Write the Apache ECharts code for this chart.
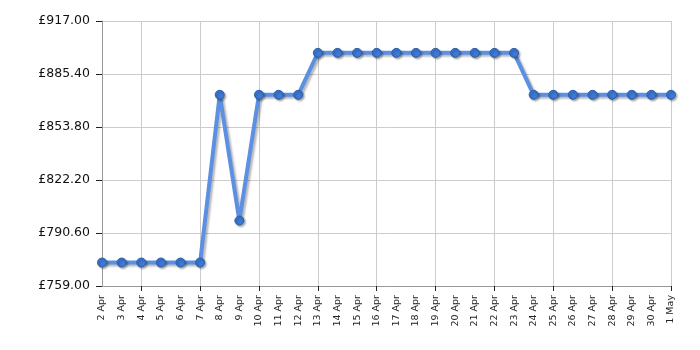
<!DOCTYPE html>
<html><head><meta charset="utf-8">
<script src="https://cdn.jsdelivr.net/npm/echarts@6/dist/echarts.min.js"></script>
<style>html,body{margin:0;padding:0;background:#fff}#c{width:700px;height:350px}</style>
</head><body><div id="c"></div>
<script>
var categories = ['2 Apr','3 Apr','4 Apr','5 Apr','6 Apr','7 Apr','8 Apr','9 Apr','10 Apr','11 Apr','12 Apr','13 Apr','14 Apr','15 Apr','16 Apr','17 Apr','18 Apr','19 Apr','20 Apr','21 Apr','22 Apr','23 Apr','24 Apr','25 Apr','26 Apr','27 Apr','28 Apr','29 Apr','30 Apr','1 May'];
var prices = [773,773,773,773,773,773,873,798,873,873,873,898,898,898,898,898,898,898,898,898,898,898,873,873,873,873,873,873,873,873];
var yMin = 759, yMax = 917, yStep = 31.6;

var chart = echarts.init(document.getElementById('c'));
var last = categories.length - 1;
function gridIdx(i){ return (last - i) % 3 === 0; }
chart.setOption({
  animation: false,
  grid: {left: 102, right: 29, top: 21, bottom: 64},
  xAxis: {
    type: 'category', data: categories, boundaryGap: false,
    axisLine: {lineStyle: {color: '#999', width: 1}},
    axisTick: {show: true, interval: gridIdx, length: 5, lineStyle: {color: '#222'}},
    axisLabel: {interval: 0, rotate: 90, fontSize: 9.5, color: '#222', fontFamily: 'DejaVu Sans', margin: 9},
    splitLine: {show: true, interval: gridIdx, lineStyle: {color: '#ccc', width: 1}}
  },
  yAxis: {
    type: 'value', min: yMin, max: yMax, interval: yStep,
    axisLine: {show: true, lineStyle: {color: '#999'}},
    axisTick: {show: true, length: 6, lineStyle: {color: '#222'}},
    axisLabel: {fontSize: 12.5, color: '#111', fontFamily: 'DejaVu Sans', margin: 12,
      formatter: function(v){ return '£' + v.toFixed(2); }},
    splitLine: {show: true, lineStyle: {color: '#ccc'}}
  },
  series: [{
    type: 'line', data: prices,
    symbol: 'circle', symbolSize: 9,
    lineStyle: {color: '#5b90e2', width: 4, shadowColor: 'rgba(0,0,0,0.28)', shadowBlur: 2, shadowOffsetX: 2, shadowOffsetY: 2},
    itemStyle: {color: '#3c78d4', borderColor: '#2d5ea8', borderWidth: 1, shadowColor: 'rgba(0,0,0,0.3)', shadowBlur: 2, shadowOffsetX: 1.5, shadowOffsetY: 1.5}
  }]
});
</script></body></html>
